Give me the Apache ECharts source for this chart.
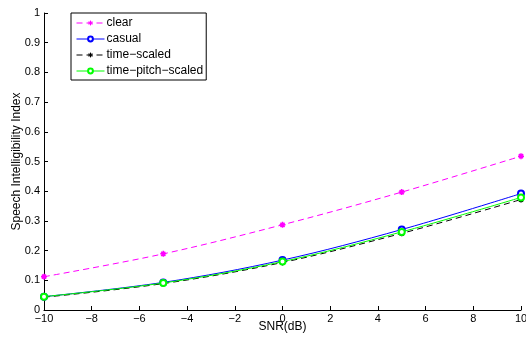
<!DOCTYPE html>
<html>
<head>
<meta charset="utf-8">
<script src="https://cdn.jsdelivr.net/npm/echarts@6/dist/echarts.min.js"></script>
<style>
  html, body { margin: 0; padding: 0; background: #fff; }
  #chart { width: 526px; height: 337px; }
</style>
</head>
<body>
<div id="chart"></div>
<script>
// SNR 取值（dB）
const snr = [-10, -5, 0, 5, 10]
const seriesNames = ['clear', 'casual', 'time\u2212scaled', 'time\u2212pitch\u2212scaled']
const clearVals = [0.112, 0.189, 0.287, 0.397, 0.518]
const casualVals = [0.045, 0.093, 0.168, 0.271, 0.392]
const timeScaledVals = [0.043, 0.089, 0.160, 0.258, 0.372]
const timePitchVals = [0.045, 0.091, 0.163, 0.263, 0.379]

// 星号标记（MATLAB 的 '*'）
const ASTERISK = 'path://M0,-1L0,1M-1,0L1,0M-0.7,-0.7L0.7,0.7M-0.7,0.7L0.7,-0.7'
const FONT = 'Liberation Sans, Arial, sans-serif'

function pairs(vals) {
  return snr.map((x, i) => [x, vals[i]])
}

function makeSeries(name, vals, color, dashed, symbol) {
  const isStar = symbol === ASTERISK
  return {
    name,
    type: 'line',
    smooth: 0.35,
    data: pairs(vals),
    symbol,
    symbolSize: 6,
    showSymbol: true,
    lineStyle: { color, width: 1, type: dashed ? [6, 4] : 'solid' },
    itemStyle: isStar
      ? { color, borderColor: color, borderWidth: 1.5 }
      : { color, borderColor: color, borderWidth: 1 },
    emphasis: { disabled: true },
    z: 3,
  }
}

const chart = echarts.init(document.getElementById('chart'), null, { renderer: 'canvas' })

chart.setOption({
  animation: false,
  backgroundColor: '#fff',
  textStyle: { fontFamily: FONT },
  grid: { left: 44, right: 5, top: 13, bottom: 27, outerBoundsMode: 'none' },
  legend: {
    left: 71,
    top: 13,
    orient: 'vertical',
    itemWidth: 28,
    itemHeight: 6,
    itemGap: 4,
    padding: [4, 3, 3, 5],
    borderColor: '#000',
    borderWidth: 1,
    backgroundColor: '#fff',
    lineStyle: { width: 1 },
    itemStyle: { borderWidth: 1 },
    textStyle: { fontSize: 12, lineHeight: 12, color: '#000', fontFamily: FONT, padding: [0, 0, 0, -3] },
    data: seriesNames,
  },
  xAxis: {
    type: 'value',
    min: -10,
    max: 10,
    interval: 2,
    name: 'SNR(dB)',
    nameLocation: 'middle',
    nameGap: 17,
    nameMoveOverlap: false,
    nameTextStyle: { fontSize: 12, color: '#000', verticalAlign: 'middle' },
    axisLine: { onZero: false, lineStyle: { color: '#000', width: 1 } },
    axisTick: { inside: true, length: 4, lineStyle: { color: '#000' } },
    axisLabel: {
      fontSize: 11,
      color: '#000',
      margin: 3,
      formatter: (v) => String(v).replace('-', '\u2212'),
    },
    splitLine: { show: false },
  },
  yAxis: {
    type: 'value',
    min: 0,
    max: 1,
    interval: 0.1,
    name: 'Speech Intelligibility Index',
    nameLocation: 'middle',
    nameGap: 27,
    nameMoveOverlap: false,
    nameTextStyle: { fontSize: 12, color: '#000', verticalAlign: 'middle' },
    axisLine: { show: true, onZero: false, lineStyle: { color: '#000', width: 1 } },
    axisTick: { show: true, inside: true, length: 4, lineStyle: { color: '#000' } },
    axisLabel: {
      fontSize: 11,
      color: '#000',
      margin: 4,
      formatter: (v) => (Math.round(v * 10) / 10).toString(),
    },
    splitLine: { show: false },
  },
  series: [
    makeSeries(seriesNames[0], clearVals, '#ff00ff', true, ASTERISK),
    makeSeries(seriesNames[1], casualVals, '#0000ff', false, 'emptyCircle'),
    makeSeries(seriesNames[2], timeScaledVals, '#000000', true, ASTERISK),
    makeSeries(seriesNames[3], timePitchVals, '#00ff00', false, 'emptyCircle'),
  ],
})
</script>
</body>
</html>
